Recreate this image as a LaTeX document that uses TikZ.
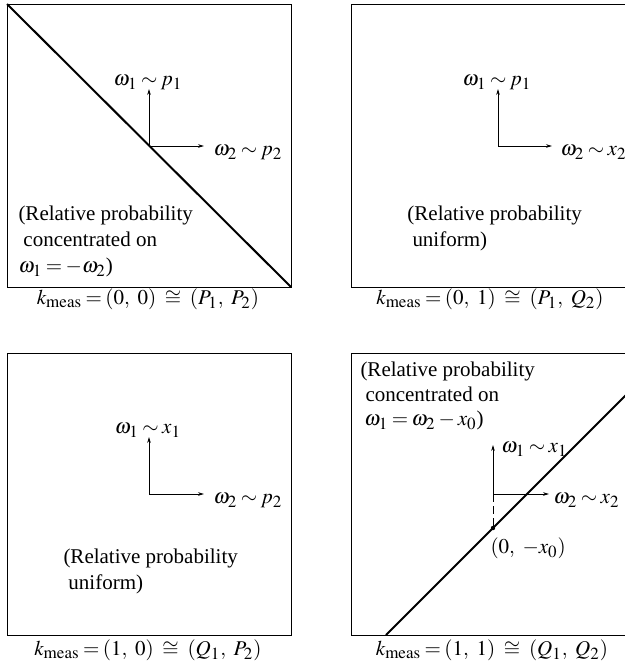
\documentclass[tikz,border=0pt]{standalone}
\usepackage{mathptmx}
\usepackage{fontspec}
\setmainfont{Liberation Serif}
\usetikzlibrary{arrows.meta}
\DeclareMathSizes{10.5}{10.5}{8.5}{7}
\thickmuskip=3mu plus 2mu
\tikzset{
  axis/.style={-{Stealth[length=3pt,width=1.8pt]}, line width=0.45pt},
  txt/.style={inner sep=0pt, anchor=base west},
  caption/.style={inner sep=0pt, anchor=base},
}
\begin{document}
\begin{tikzpicture}[x=0.5pt, y=-0.5pt, line width=0.5pt, font=\fontsize{10.5}{13}\selectfont]
  \clip (0,0) rectangle (625,666);
  % (0,0)
  \draw (7,4) rectangle (291,287);
  \coordinate (tl1) at (7,4);
  \coordinate (br1) at (291,287);
  \draw[line width=1pt] (tl1) -- (br1);
  \coordinate (o1) at (149,146);
  \coordinate (u1) at (149,89);
  \coordinate (r1) at (204,146);
  \draw[axis] (o1) -- (u1);
  \draw[axis] (o1) -- (r1);
  \node[caption] (l1a) at (148,85) {$\omega_1 \sim p_1$};
  \node[txt] (l1b) at (213,155) {$\omega_2 \sim p_2$};
  \node[txt] (t1a) at (18,220) {(Relative probability};
  \node[txt] (t1b) at (23,246) {concentrated on};
  \node[txt] (t1c) at (18,272) {$\omega_1 = -\omega_2$)};
  \node[caption] (c1) at (148,304) {$k_{\mathrm{meas}} = (0,\ 0)\ \cong\ (P_1,\ P_2)$};

  % (0,1)
  \draw (351,4) rectangle (635,287);
  \coordinate (o2) at (498,146);
  \coordinate (u2) at (498,89);
  \coordinate (r2) at (552,146);
  \draw[axis] (o2) -- (u2);
  \draw[axis] (o2) -- (r2);
  \node[caption] (l2a) at (497,85) {$\omega_1 \sim p_1$};
  \node[txt] (l2b) at (560,155) {$\omega_2 \sim x_2$};
  \node[txt] (t2a) at (407,220) {(Relative probability};
  \node[txt] (t2b) at (412,246) {uniform)};
  \node[caption] (c2) at (490,304) {$k_{\mathrm{meas}} = (0,\ 1)\ \cong\ (P_1,\ Q_2)$};

  % (1,0)
  \draw (7,353) rectangle (291,635);
  \coordinate (o3) at (149,494);
  \coordinate (u3) at (149,437);
  \coordinate (r3) at (204,494);
  \draw[axis] (o3) -- (u3);
  \draw[axis] (o3) -- (r3);
  \node[caption] (l3a) at (148,433) {$\omega_1 \sim x_1$};
  \node[txt] (l3b) at (213,503) {$\omega_2 \sim p_2$};
  \node[txt] (t3a) at (63,563) {(Relative probability};
  \node[txt] (t3b) at (68,589) {uniform)};
  \node[caption] (c3) at (148,655) {$k_{\mathrm{meas}} = (1,\ 0)\ \cong\ (Q_1,\ P_2)$};

  % (1,1)
  \draw (351,353) rectangle (635,635);
  \coordinate (lo4) at (386,635);
  \coordinate (hi4) at (635,386);
  \draw[line width=1pt] (lo4) -- (hi4);
  \coordinate (o4) at (493,494);
  \coordinate (u4) at (493,445);
  \coordinate (r4) at (549,494);
  \coordinate (p4) at (493,528);
  \draw[axis] (o4) -- (u4);
  \draw[axis] (o4) -- (r4);
  \draw[dashed, dash pattern=on 4pt off 2pt] (o4) -- (p4);
  \fill (p4) circle (2.2);
  \node[txt] (l4a) at (501,452) {$\omega_1 \sim x_1$};
  \node[txt] (l4b) at (553,503) {$\omega_2 \sim x_2$};
  \node[txt] (l4c) at (490,553) {$(0,\ -x_0)$};
  \node[txt] (t4a) at (360,376) {(Relative probability};
  \node[txt] (t4b) at (365,401) {concentrated on};
  \node[txt] (t4c) at (364,425) {$\omega_1 = \omega_2 - x_0$)};
  \node[caption] (c4) at (492,655) {$k_{\mathrm{meas}} = (1,\ 1)\ \cong\ (Q_1,\ Q_2)$};
\end{tikzpicture}
\end{document}
